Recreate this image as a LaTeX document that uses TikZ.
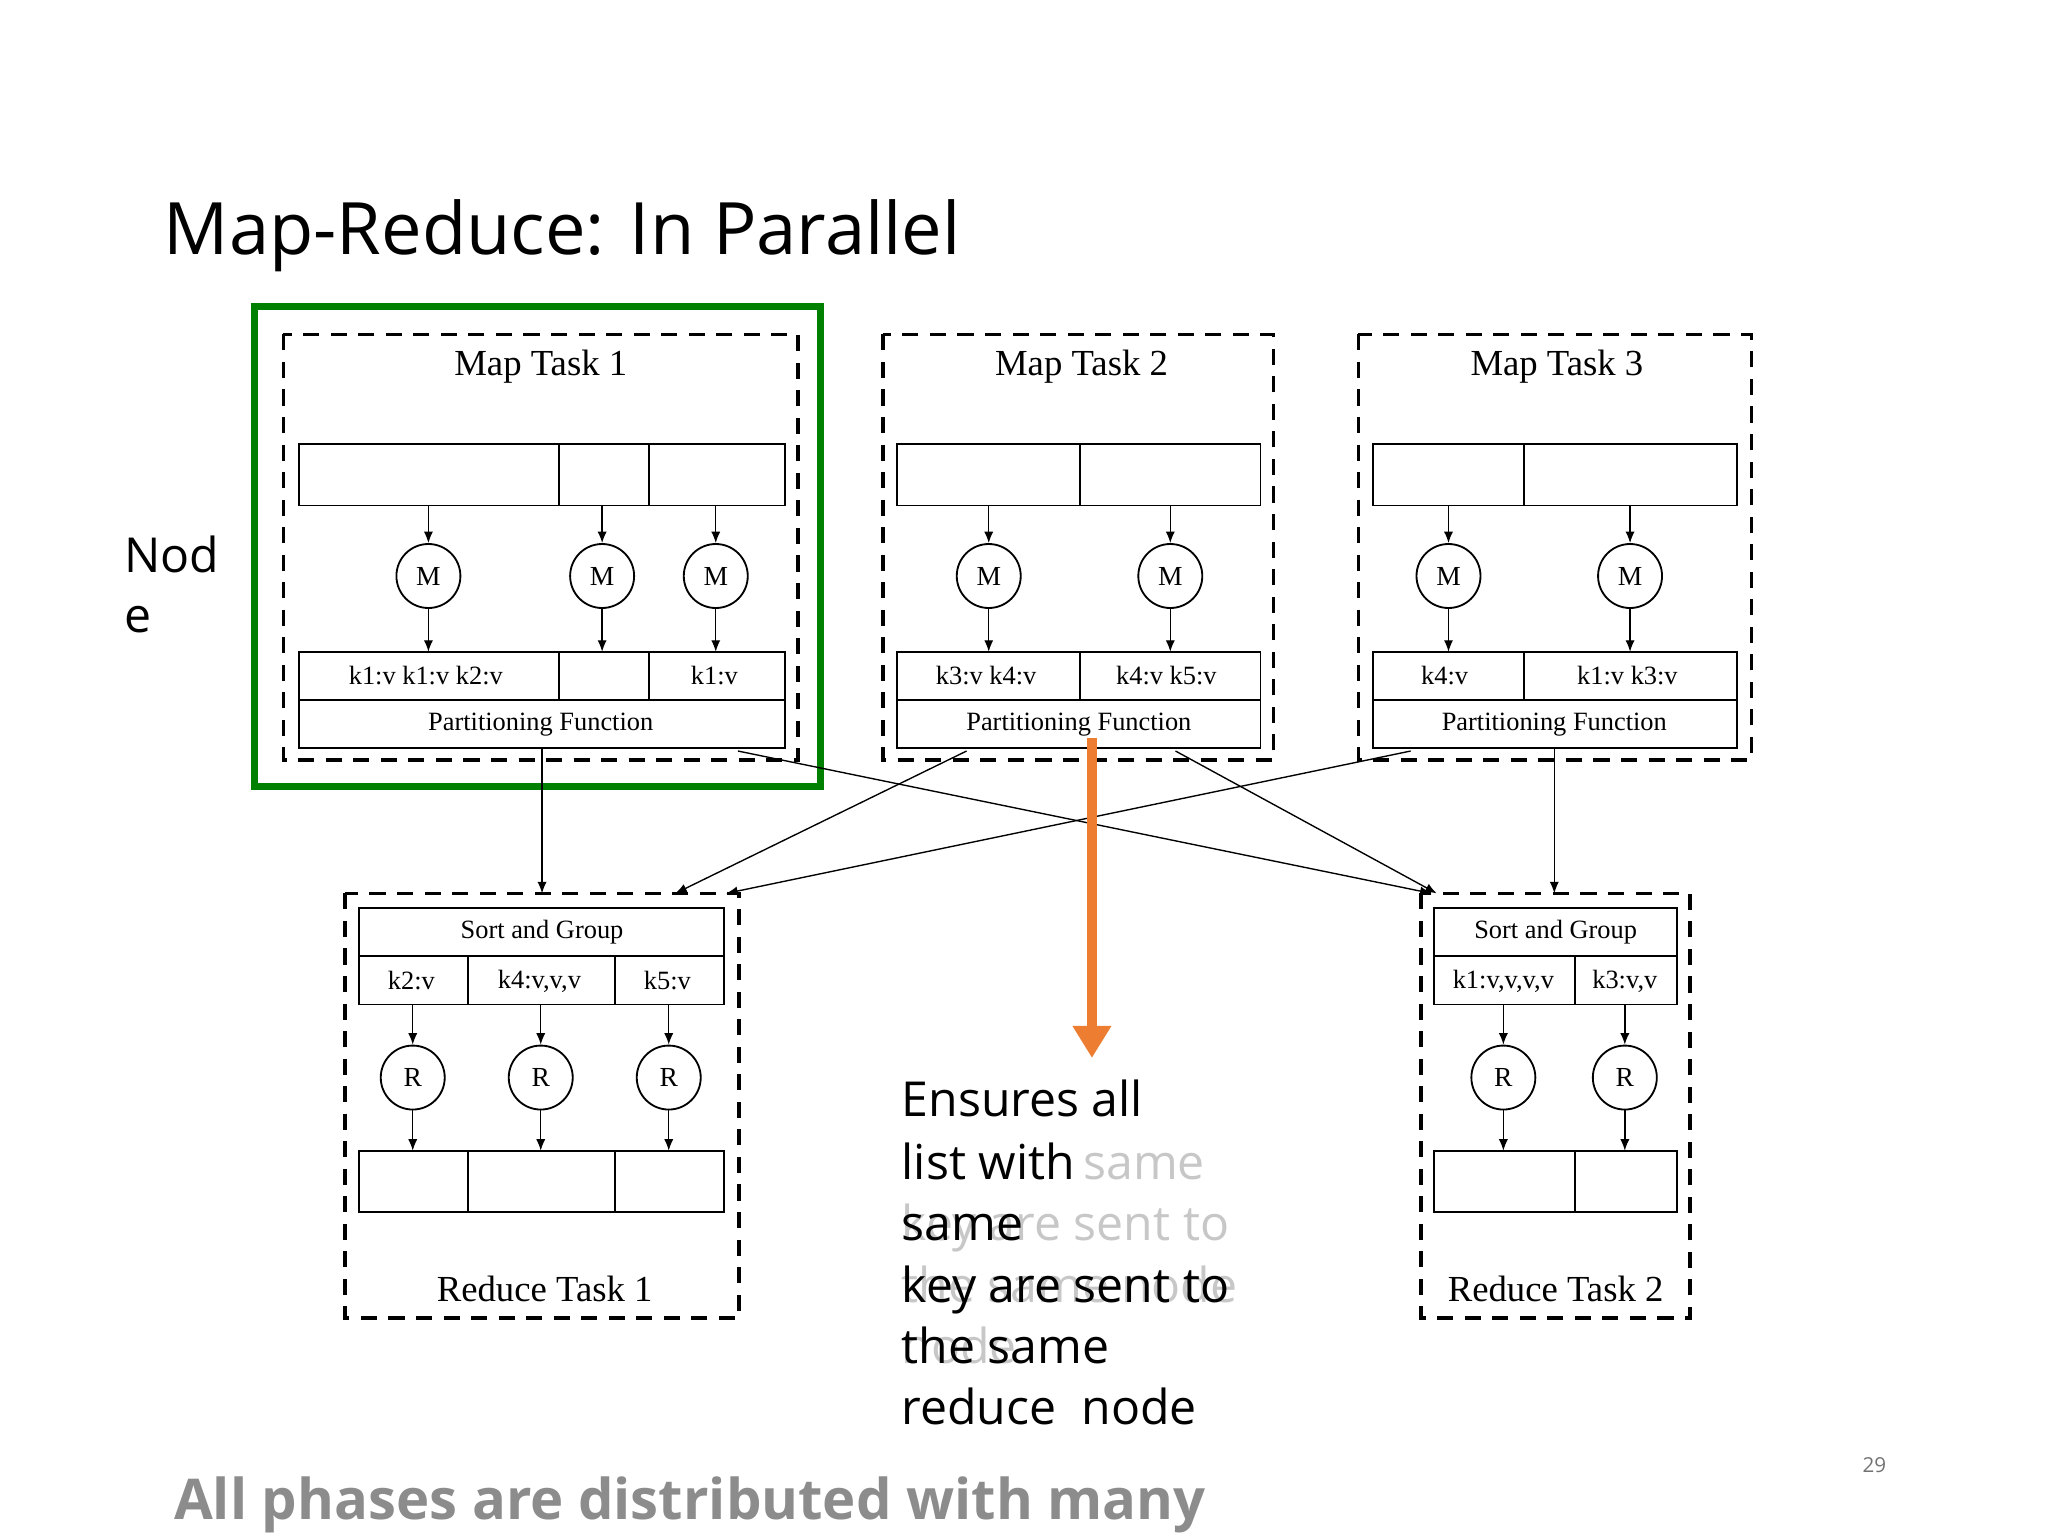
\documentclass[tikz,border=0pt]{standalone}
\usepackage{fontspec}
\setmainfont{Open Sans}
\newfontfamily\tms{Liberation Serif}
\usetikzlibrary{arrows.meta}
\definecolor{myorange}{RGB}{237,125,49}
\definecolor{mygreen}{RGB}{0,128,0}
\begin{document}
\begin{tikzpicture}[x=0.02cm,y=-0.02cm,
 dashframe/.style={line width=1.6pt,dash pattern=on 7pt off 5pt},
 box/.style={draw,line width=0.8pt},
 circ/.style={draw,circle,line width=0.8pt,minimum size=0.98cm,inner sep=0pt,font=\tms\fontsize{12}{12}\selectfont},
 ar/.style={-{Latex[length=5pt,width=4pt]},line width=0.6pt},
 lbl/.style={font=\tms\fontsize{11.5}{12}\selectfont},
 ttl/.style={font=\tms\fontsize{16}{18}\selectfont},
 body/.style={anchor=base west,font=\fontsize{21}{26}\selectfont,inner sep=0pt},
 ghost/.style={body,text=black!22}]
\useasboundingbox (0,0) rectangle (1568,1176);
\node[anchor=base west,font=\fontsize{31.5}{40}\selectfont,inner sep=0pt] (title) at (125,195) {Map-Reduce: In Parallel};
\node[anchor=base west,font=\fontsize{21}{26}\selectfont,inner sep=0pt] (nod) at (95,438) {Nod};
\node[anchor=base west,font=\fontsize{21}{26}\selectfont,inner sep=0pt] (e) at (95,484) {e};
\draw[mygreen,line width=3pt] (195,235) rectangle (628,602);
% Map task frames
\draw[dashframe] (217,256) rectangle (611,582);
\draw[dashframe] (676,256) rectangle (975,582);
\draw[dashframe] (1040,256) rectangle (1341,582);
\node[ttl] (t1) at (414,281) {Map Task 1};
\node[ttl] (t2) at (828,281) {Map Task 2};
\node[ttl] (t3) at (1192,281) {Map Task 3};
% MT1
\draw[box] (229,340) rectangle (601,387) (428,340)--(428,387) (497,340)--(497,387);
\draw[box] (229,499) rectangle (601,536) (428,499)--(428,536) (497,499)--(497,536);
\draw[box] (229,536) rectangle (601,573);
\node[lbl] (o11) at (326,517) {k1:v k1:v k2:v};
\node[lbl] (o12) at (547,517) {k1:v};
\node[lbl] (p1) at (414,555) {Partitioning Function};
% MT2
\draw[box] (687,340) rectangle (965,387) (827,340)--(827,387);
\draw[box] (687,499) rectangle (965,536) (827,499)--(827,536);
\draw[box] (687,536) rectangle (965,573);
\node[lbl] (o21) at (755,517) {k3:v k4:v};
\node[lbl] (o22) at (893,517) {k4:v k5:v};
\node[lbl] (p2) at (826,555) {Partitioning Function};
% MT3
\draw[box] (1051,340) rectangle (1330,387) (1167,340)--(1167,387);
\draw[box] (1051,499) rectangle (1330,536) (1167,499)--(1167,536);
\draw[box] (1051,536) rectangle (1330,573);
\node[lbl] (o31) at (1106,517) {k4:v};
\node[lbl] (o32) at (1246,517) {k1:v k3:v};
\node[lbl] (p3) at (1190,555) {Partitioning Function};
% M nodes
\foreach \n/\x in {a/328,b/461,c/548,d/757,e/896,f/1109,g/1248}{
 \node[circ] (m\n) at (\x,441) {M};
 \coordinate (mi\n) at (\x,387);
 \coordinate (mo\n) at (\x,499);
 \draw[ar] (mi\n) -- (m\n.north);
 \draw[ar] (m\n.south) -- (mo\n);
}
% Reduce task 1
\draw[dashframe] (264,684) rectangle (566,1009);
\draw[box] (275,695) rectangle (554,732);
\draw[box] (275,732) rectangle (554,769) (358,732)--(358,769) (471,732)--(471,769);
\draw[box] (275,881) rectangle (554,928) (358,881)--(358,928) (471,881)--(471,928);
\node[lbl] (s1) at (415,714) {Sort and Group};
\node[lbl] (k1a) at (315,751) {k2:v};
\node[lbl] (k1b) at (413,751) {k4:v,v,v};
\node[lbl] (k1c) at (511,751) {k5:v};
\node[ttl] (rt1) at (417,987) {Reduce Task 1};
% Reduce task 2
\draw[dashframe] (1088,684) rectangle (1294,1009);
\draw[box] (1098,695) rectangle (1284,732);
\draw[box] (1098,732) rectangle (1284,769) (1206,732)--(1206,769);
\draw[box] (1098,881) rectangle (1284,928) (1206,881)--(1206,928);
\node[lbl] (s2) at (1191,714) {Sort and Group};
\node[lbl] (k2a) at (1151,751) {k1:v,v,v,v};
\node[lbl] (k2b) at (1244,751) {k3:v,v};
\node[ttl] (rt2) at (1191,987) {Reduce Task 2};
\foreach \n/\x in {a/316,b/414,c/512,d/1151,e/1244}{
 \node[circ] (r\n) at (\x,825) {R};
 \coordinate (ri\n) at (\x,769);
 \coordinate (ro\n) at (\x,881);
 \draw[ar] (ri\n) -- (r\n.north);
 \draw[ar] (r\n.south) -- (ro\n);
}
% shuffle
\coordinate (a1) at (415,573); \coordinate (b1) at (415,684);
\coordinate (a2) at (1190,573); \coordinate (b2) at (1190,684);
\coordinate (a3) at (565,575); \coordinate (b3) at (1096,684);
\coordinate (a4) at (740,575); \coordinate (b4) at (517,684);
\coordinate (a5) at (900,575); \coordinate (b5) at (1100,684);
\coordinate (a6) at (1080,575); \coordinate (b6) at (556,684);
\foreach \i in {1,...,6}{\draw[ar] (a\i) -- (b\i);}
% orange arrow
\coordinate (oa) at (836,565); \coordinate (ob) at (836,810);
\draw[myorange,line width=4.5pt,-{Triangle[length=14pt,width=16pt]}] (oa) -- (ob);
% ghost text
\node[ghost] (g1) at (829,903) {same};
\node[ghost] (g2) at (690,950) {key are sent to};
\node[ghost] (g3) at (690,997) {the same node};
\node[ghost] (g4) at (690,1044) {node};
% text block
\node[body] (x1) at (690,855) {Ensures all};
\node[body] (x2) at (690,903) {list with};
\node[body] (x3) at (690,950) {same};
\node[body] (x4) at (690,997) {key are sent to};
\node[body] (x5) at (690,1044) {the same};
\node[body] (x6) at (690,1091) {reduce\ \ node};
\node[anchor=base west,font=\bfseries\fontsize{24.5}{30}\selectfont,text=black!45,inner sep=0pt] (bot) at (133,1163) {All phases are distributed with many};
\node[anchor=base,font=\fontsize{9}{10}\selectfont,text=black!55] (pg) at (1435,1127) {29};
\end{tikzpicture}
\end{document}
